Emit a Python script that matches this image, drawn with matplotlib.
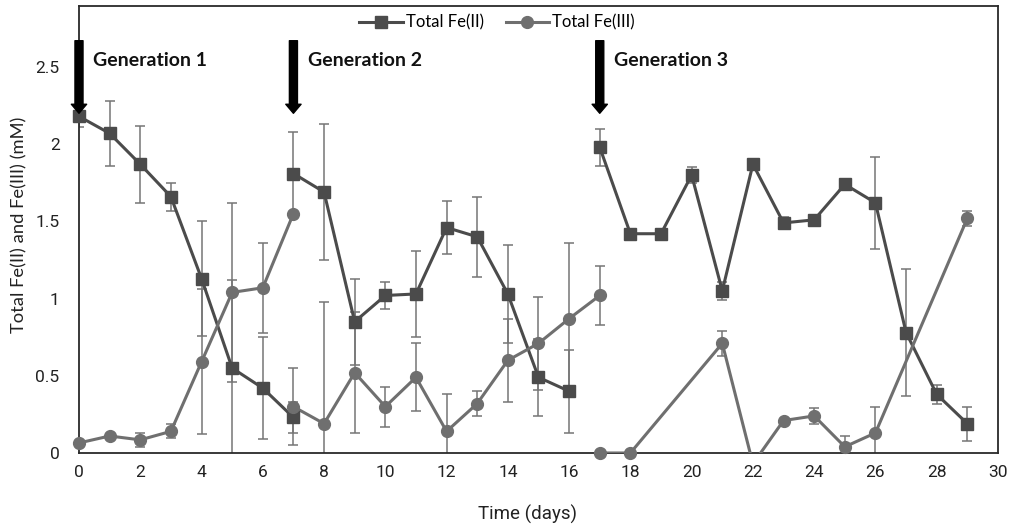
import matplotlib
matplotlib.use("Agg")
import matplotlib.pyplot as plt
from matplotlib.lines import Line2D

# Fe(II) / Fe(III) over three feeding generations, values in mM
gen1_days = [0, 1, 2, 3, 4, 5, 6, 7]
fe2_gen1 = [2.18, 2.07, 1.87, 1.66, 1.13, 0.55, 0.42, 0.23]
fe2_gen1_err = [0.07, 0.21, 0.25, 0.09, 0.37, 0.57, 0.33, 0.10]
fe3_gen1 = [0.065, 0.11, 0.085, 0.14, 0.59, 1.04, 1.07, 1.55]
fe3_gen1_err = [0.0, 0.0, 0.045, 0.045, 0.47, 0.58, 0.29, 0.0]

gen2_fe2_days = [7, 8, 9, 10, 11, 12, 13, 14, 15, 16]
fe2_gen2 = [1.81, 1.69, 0.85, 1.02, 1.03, 1.46, 1.40, 1.03, 0.49, 0.40]
fe2_gen2_err = [0.27, 0.44, 0.28, 0.09, 0.28, 0.17, 0.26, 0.32, 0.25, 0.27]
gen2_fe3_days = [7, 8, 9, 10, 11, 12, 13, 14, 15, 16, 17]
fe3_gen2 = [0.30, 0.19, 0.52, 0.30, 0.49, 0.14, 0.32, 0.60, 0.71, 0.87, 1.02]
fe3_gen2_err = [0.25, 0.79, 0.39, 0.13, 0.22, 0.24, 0.08, 0.27, 0.30, 0.49, 0.19]

gen3_fe2_days = [17, 18, 19, 20, 21, 22, 23, 24, 25, 26, 27, 28, 29]
fe2_gen3 = [1.98, 1.42, 1.42, 1.80, 1.05, 1.87, 1.49, 1.51, 1.74, 1.62, 0.78, 0.38, 0.19]
fe2_gen3_err = [0.12, 0.03, 0.03, 0.05, 0.06, 0.0, 0.04, 0.0, 0.02, 0.30, 0.41, 0.06, 0.11]
gen3_fe3_days = [17, 18, 21, 22, 23, 24, 25, 26, 29]
fe3_gen3 = [0.0, 0.0, 0.71, -0.07, 0.21, 0.24, 0.04, 0.13, 1.52]
fe3_gen3_err = [0.0, 0.0, 0.08, 0.0, 0.0, 0.05, 0.07, 0.17, 0.05]

generation_days = [0, 7, 17]
generation_labels = ["Generation 1", "Generation 2", "Generation 3"]

FE2_COLOR = "#4b4b4b"
FE3_COLOR = "#6f6f6f"
ERR_COLOR = "#757575"
NARROW = ["Roboto", "DejaVu Sans"]
REGULAR = ["Lato", "DejaVu Sans"]

fig = plt.figure(figsize=(10.14, 5.29), dpi=100)
ax = fig.add_axes([0.0779, 0.1437, 0.9063, 0.845])
ymax = 2.895


def draw_series(x, y, err, color, marker, msize):
    ax.errorbar(x, y, yerr=err, fmt="none", ecolor=ERR_COLOR, elinewidth=1.1,
                capsize=3.6, capthick=1.1, zorder=2)
    ax.plot(x, y, color=color, lw=2.2, zorder=3)
    # markers sitting on the frame are drawn whole, points below zero are hidden
    keep = [i for i, v in enumerate(y) if 0 <= v <= ymax]
    ax.plot([x[i] for i in keep], [y[i] for i in keep], ls="none", marker=marker,
            ms=msize, color=color, clip_on=False, zorder=4)


draw_series(gen1_days, fe2_gen1, fe2_gen1_err, FE2_COLOR, "s", 8)
draw_series(gen1_days, fe3_gen1, fe3_gen1_err, FE3_COLOR, "o", 8.5)
draw_series(gen2_fe2_days, fe2_gen2, fe2_gen2_err, FE2_COLOR, "s", 8)
draw_series(gen2_fe3_days, fe3_gen2, fe3_gen2_err, FE3_COLOR, "o", 8.5)
draw_series(gen3_fe2_days, fe2_gen3, fe2_gen3_err, FE2_COLOR, "s", 8)
draw_series(gen3_fe3_days, fe3_gen3, fe3_gen3_err, FE3_COLOR, "o", 8.5)

# feeding arrows
for d, label in zip(generation_days, generation_labels):
    ax.annotate("", xy=(d, 2.20), xytext=(d, 2.67),
                arrowprops=dict(width=5.8, headwidth=11, headlength=6.5,
                                shrink=0, color="black"),
                annotation_clip=False, zorder=6)
    ax.text(d + 0.46, 2.54, label, fontsize=14, fontweight="bold",
            family=REGULAR, va="center", ha="left", color="#111111")

ax.set_xlim(0, 30)
ax.set_ylim(0, ymax)
ax.set_xticks(range(0, 31, 2))
ax.set_yticks([0, 0.5, 1, 1.5, 2, 2.5])
ax.set_yticklabels(["0", "0.5", "1", "1.5", "2", "2.5"])
ax.tick_params(length=0, pad=9, labelsize=12.5, colors="#222222")
for lab in ax.get_xticklabels() + ax.get_yticklabels():
    lab.set_family(NARROW)
ax.tick_params(axis="y", pad=14)
for s in ax.spines.values():
    s.set_linewidth(1.3)
    s.set_color("#2a2a2a")

ax.set_xlabel("Time (days)", fontsize=13.5, family=NARROW, color="#222222")
ax.xaxis.set_label_coords(0.488, -0.115)
ax.set_ylabel("Total Fe(II) and Fe(III) (mM)", fontsize=13.2, family=REGULAR,
              color="#222222")
ax.yaxis.set_label_coords(-0.056, 0.51)

handles = [
    Line2D([], [], color=FE2_COLOR, lw=2.2, marker="s", ms=8),
    Line2D([], [], color=FE3_COLOR, lw=2.2, marker="o", ms=8.5),
]
ax.legend(handles, ["Total Fe(II)", "Total Fe(III)"], loc="center",
          bbox_to_anchor=(0.455, 0.963), ncol=2, frameon=False,
          prop={"family": REGULAR, "size": 12}, handlelength=2.6,
          handletextpad=0.2, columnspacing=1.3)

fig.savefig("out.png", dpi=100, facecolor="white")
